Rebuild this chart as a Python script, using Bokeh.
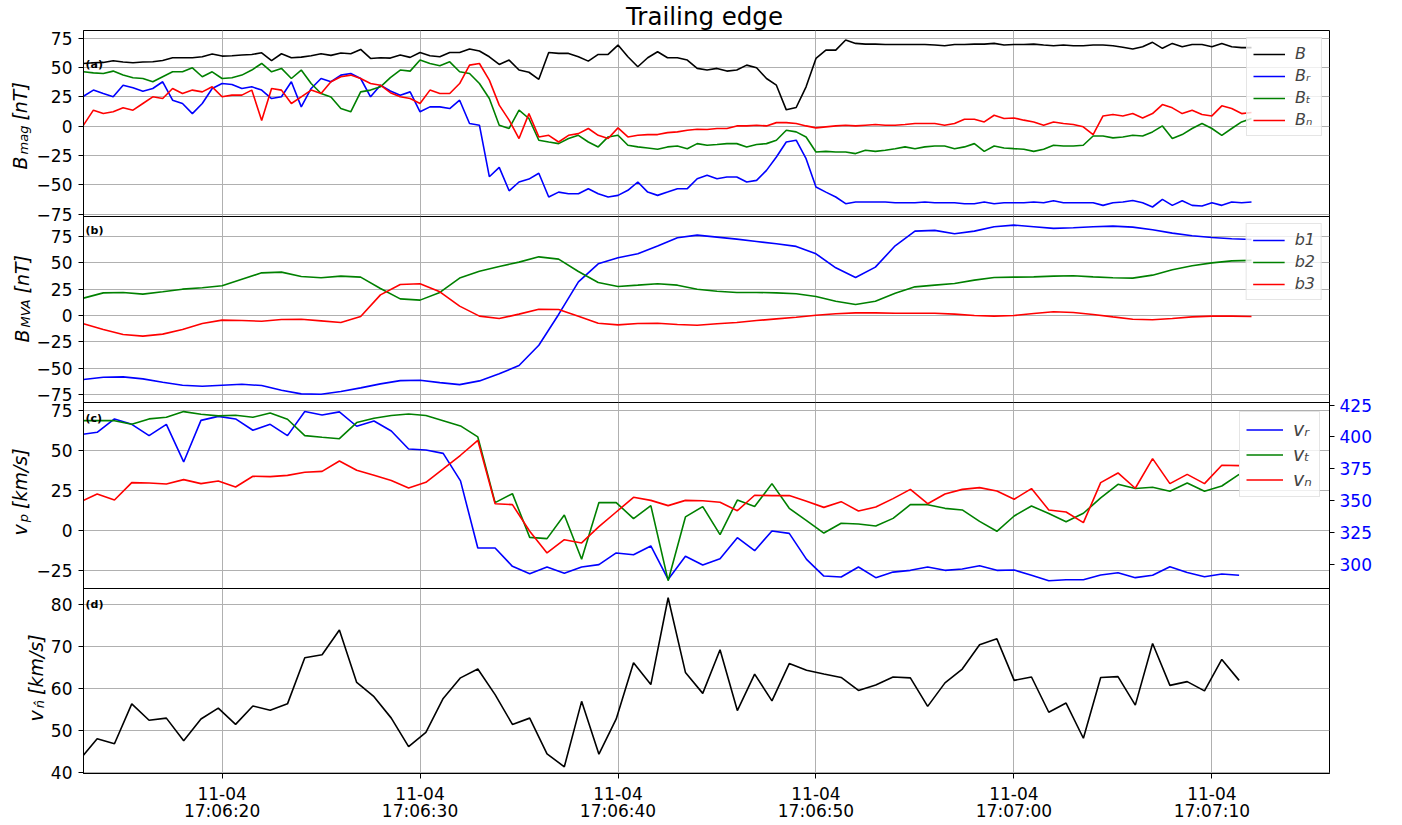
from math import pi
import numpy as np
from bokeh.plotting import figure
from bokeh.models import (Range1d, LinearAxis, FixedTicker, CustomJSTickFormatter, Label)
from bokeh.layouts import column, row
from bokeh.embed import file_html
from bokeh.resources import INLINE

# ---------------- data (seconds after 17:06:00 on 11-04) ----------------
# panel (a): magnetic field, 0.5 s samples starting 17:06:13.0
t_mag_start, t_mag_step = 13.0, 0.5
B_tot = [53.5, 54.1, 54.4, 55.8, 54.7, 54.1, 54.7, 55.0, 56.1, 58.4, 58.4, 58.4, 59.2, 61.5, 59.8, 60.1,
         60.7, 61.2, 62.6, 56.0, 61.8, 58.4, 58.9, 60.1, 61.8, 60.4, 62.4, 61.8, 65.5, 57.8, 58.4,
         58.1,
         60.7, 58.7, 62.9, 60.1, 59.2, 62.9, 62.9, 65.8, 64.1, 59.2, 52.7, 56.4, 47.9, 46.0, 40.0, 62.9,
         62.1, 62.1, 59.2, 55.5, 61.2, 61.2, 69.2, 59.2, 50.7, 58.4, 63.5, 58.4, 58.4, 56.4, 49.3,
         47.9, 49.3, 47.0, 47.9, 52.1, 49.8, 40.7, 35.0, 14.0, 16.0, 33.6, 57.8, 64.9, 64.9, 73.5, 70.6,
         70.0, 70.0, 69.7, 69.7, 69.7, 69.7, 69.7, 69.2, 68.6, 69.7, 69.7, 70.0, 70.0, 70.6, 69.2,
         69.7, 69.7, 70.0, 69.2, 68.6, 69.2, 68.6, 68.6, 69.2, 69.2, 68.6, 67.3, 65.8, 67.8, 71.5, 66.4,
         70.6, 67.8, 69.7, 69.7, 67.8, 70.6, 67.8, 67.0, 67.0]
B_r = [25.6, 30.8, 27.9, 25.1, 35.0, 32.8, 29.9, 32.2, 37.9, 22.2, 19.4, 10.8, 19.4, 32.2, 36.4, 35.6,
       32.2, 33.6, 30.8, 23.6, 25.1, 37.9, 16.5, 32.2, 40.7, 37.9, 43.6, 45.0, 40.7, 25.1, 35.0,
       30.0,
       26.5, 29.3, 12.3, 16.5, 16.5, 15.1, 22.2, 2.3, 0.9, -43.0, -35.0, -55.0, -47.5, -45.0, -40.0, -60.3,
       -56.1, -57.5, -57.5, -53.2, -57.5, -60.3, -58.9, -54.6, -47.5, -56.1, -58.9, -56.1, -53.2, -53.2, -44.7,
       -41.8, -44.7, -43.2, -43.2, -47.5, -46.1, -37.6, -26.2, -13.4, -11.9, -27.6, -51.8, -56.1, -60.3, -66.0,
       -64.6, -64.6, -64.6, -64.6, -65.2, -65.2, -65.2, -64.6, -65.2, -65.2, -65.2, -66.0, -66.0, -64.6, -66.0,
       -65.2,
       -65.2, -65.2, -64.6, -65.2, -63.5, -65.2, -65.2, -65.2, -65.2, -67.4, -65.2, -64.6, -63.2, -65.2, -68.8,
       -62.3, -67.4, -63.5, -67.4, -68.0, -65.2, -67.4, -64.6, -65.2, -64.6]
B_t = [46.4, 45.5, 45.0, 47.0, 43.6, 41.3, 40.7, 37.9, 42.2, 46.4, 46.4, 49.8, 42.2, 46.4, 40.7, 41.3,
       43.6, 47.9, 53.5, 46.4, 49.3, 40.7, 47.9, 36.4, 27.9, 25.0, 15.1, 12.3, 29.3, 30.8, 33.6,
       41.5,
       47.9, 47.0, 56.4, 53.5, 51.5, 54.9, 46.4, 45.0, 36.4, 23.6, 0.9, -1.9, 13.7, 6.6, -11.9, -13.4,
       -14.8, -10.5, -7.7, -13.4, -17.6, -9.1, -7.7, -16.2, -17.6, -18.5, -19.6, -17.6, -16.8, -19.1, -14.8,
       -16.2, -15.6, -14.8, -14.8, -17.6, -15.6, -14.8, -11.9, -3.4, -4.8, -9.1, -21.9, -21.4, -21.9, -21.9,
       -23.3, -20.5, -21.4, -20.5, -19.1, -17.6, -19.1, -17.6, -16.8, -16.8, -19.1, -17.6, -14.8, -21.4, -16.8,
       -18.5,
       -19.1, -19.6, -21.4, -19.6, -16.2, -16.8, -16.8, -16.2, -8.3, -8.3, -9.9, -9.1, -7.7, -8.3, -4.8,
       0.3, -10.5, -7.1, -1.9, 2.3, -1.9, -7.7, -1.9, 3.7, 6.6]
B_n = [1.0, 13.7, 10.8, 12.3, 15.7, 13.7, 19.4, 25.1, 23.6, 32.2, 27.9, 30.8, 29.3, 33.6, 25.1, 26.5,
       26.5, 30.8, 5.0, 32.2, 30.8, 19.4, 25.1, 30.8, 27.9, 37.9, 42.2, 43.6, 40.7, 36.4, 35.0,
       28.6,
       25.1, 23.6, 19.4, 30.8, 27.9, 27.9, 36.4, 52.1, 53.5, 39.3, 18.0, 5.2, -10.5, 10.8, -9.1, -7.7,
       -13.4, -7.7, -6.3, -1.9, -7.7, -10.5, -1.4, -9.1, -7.7, -7.1, -7.1, -5.4, -4.8, -3.4, -2.6,
       -2.8, -1.9, -1.9, 0.3, 0.3, 0.9, 0.3, 3.1, 3.1, 2.3, 0.3, -1.4, -0.5, 0.3, 0.9,
       0.3, 0.9, 1.5, 0.9, 0.9, 1.5, 2.3, 2.3, 2.3, 0.9, 2.3, 6.0, 6.0, 3.7, 9.4, 6.6,
       7.1, 5.2, 3.7, 0.9, 3.7, 2.3, 1.5, -0.5, -7.1, 8.8, 10.0, 8.8, 10.8, 7.1, 10.8,
       18.5, 15.7, 10.8, 13.7, 10.0, 8.8, 17.4, 15.1, 10.8, 11.7]

# panel (b): MVA components, 1 s samples starting 17:06:13
t_mva_start, t_mva_step = 13.0, 1.0
b1 = [-60.8, -58.6, -58.3, -60.2, -63.4, -66.2, -67.2, -66.2, -65.3, -66.5, -71.0, -74.4, -74.8, -72.2,
      -68.7, -64.9, -61.8, -61.5, -63.7, -65.6, -62.1, -55.4, -47.5, -28.2, 1.0, 32.0, 49.1, 54.8, 58.6,
      65.9, 73.8, 76.3, 74.4, 72.5, 70.3, 68.1, 65.6, 58.6, 45.3, 36.1, 45.9, 66.2, 80.1, 80.8, 77.6,
      80.1, 84.3, 85.8, 84.3, 82.7, 83.3, 84.3, 84.9, 83.9, 81.4, 78.2, 75.7, 74.1, 72.9, 72.2]
b2 = [16.5, 21.5, 21.9, 20.3, 22.5, 25.0, 26.3, 28.2, 34.5, 40.5, 41.2, 37.1, 35.8, 37.4, 36.4, 25.7,
      15.8, 14.6, 21.9, 35.5, 42.1, 46.6, 50.7, 55.7, 53.5, 41.8, 31.4, 27.6, 28.8, 30.1, 28.8, 25.0,
      23.1, 21.9, 21.9, 21.5, 20.6, 18.1, 13.6, 10.5, 13.6, 21.2, 27.2, 28.8, 30.4, 33.6, 36.1, 36.4,
      36.7, 37.4, 37.7, 36.7, 35.8, 35.5, 38.3, 43.4, 47.2, 50.0, 51.9, 52.3]
b3 = [-7.9, -13.3, -18.0, -19.6, -17.7, -13.3, -7.6, -4.4, -4.8, -5.4, -3.8, -3.5, -5.1, -6.7, -1.0,
      19.6, 29.5, 30.1, 22.5, 8.9, -0.6, -2.9, 1.3, 6.0, 5.7, -0.6, -7.3, -8.9, -7.6, -7.3, -8.6, -9.2,
      -7.9, -6.7, -4.8, -3.2, -1.6, 0.3, 1.6, 2.5, 2.5, 2.2, 2.2, 2.2, 1.3, 0.0, -0.6, 0.0, 1.9, 3.5,
      2.9, 1.0, -1.3, -3.5, -4.1, -2.9, -1.3, -0.6, -0.6, -1.0]

# panels (c), (d): plasma moments, 0.874 s cadence starting 17:06:12.816
t_pl_start, t_pl_step = 12.816, 0.874
v_r = [60.0, 61.5, 69.9, 66.5, 59.4, 66.5, 42.9, 69.0, 71.5, 69.9, 62.8, 66.5, 59.4, 74.5, 72.4, 74.3,
       65.3, 68.6, 62.3, 51.0, 50.4, 48.3, 31.0, -11.1, -11.1, -22.6, -27.2, -23.0, -27.0, -23.0, -21.5,
       -14.2, -15.3, -9.8, -30.8, -16.3, -21.8,
       -17.8, -4.6, -12.8, -0.4, -1.9, -18.2, -28.7, -29.3, -23.0, -29.7, -26.2, -25.1, -23.0, -25.1,
       -24.3, -22.2, -25.1, -24.9, -28.2, -31.6, -31.0, -31.0, -28.0, -26.6, -29.7, -28.2, -22.8, -26.4,
       -29.1, -27.4, -28.2]
v_t = [68.8, 68.8, 68.8, 66.5, 69.9, 70.9, 74.5, 72.8, 71.8, 72.2, 70.9, 73.6, 69.7, 59.4, 58.4, 57.5,
       67.6, 70.3, 72.0, 73.0, 72.0, 68.8, 65.5, 58.6, 17.4, 23.0, -4.4, -5.2, 9.6, -18.2, 17.4, 17.4,
       7.3, 15.5, -31.6, 8.4, 14.9,
       -2.7, 19.0, 14.9, 29.3, 13.8, 6.1, -1.7, 4.4, 4.0, 2.7, 7.5, 16.1, 16.1, 13.8, 12.8, 5.6, -0.6,
       9.0, 15.3, 10.5, 5.4, 10.7, 20.3, 28.9, 26.2, 27.0, 24.5, 29.7, 24.5, 27.8, 35.1]
v_n = [17.7, 22.8, 19.0, 29.9, 29.7, 29.1, 31.8, 29.3, 31.0, 27.2, 33.9, 33.7, 34.5, 36.4, 37.0, 43.5,
       37.7, 34.5, 31.2, 26.6, 30.1, 38.5, 47.1, 56.5, 16.7, 16.1, -0.6, -14.2, -5.9, -7.9, 2.3, 11.5,
       20.7, 18.8, 15.5, 18.8, 18.6,
       17.6, 12.3, 22.0, 21.8, 21.8, 18.2, 14.4, 18.0, 12.1, 14.6, 19.9, 25.7, 16.7, 22.8, 25.7, 26.8,
       24.7, 19.5, 26.2, 12.8, 11.5, 4.8, 29.9, 36.0, 26.4, 45.0, 29.3, 35.1, 29.3, 40.8, 40.6]
v_nhat = [43.1, 48.1, 46.9, 56.4, 52.5, 53.0, 47.6, 52.8, 55.4, 51.5, 55.9, 54.9, 56.4, 67.4, 68.1, 74.0,
          61.5, 58.1, 53.0, 46.2, 49.6, 57.7, 62.6, 64.7, 58.6, 51.5, 53.0, 44.5, 41.4, 57.0, 44.4, 52.8,
          66.2, 61.0, 81.7, 63.9, 58.9, 69.3, 54.8, 63.5, 57.1, 66.0, 64.4, 63.5, 62.7, 59.6, 60.9, 62.8,
          62.6, 55.8, 61.4, 64.7, 70.5, 71.9, 62.0, 62.8, 54.4, 56.6, 48.2, 62.7, 62.9, 56.1, 70.8, 60.8,
          61.7, 59.5, 67.0, 62.0]

x_tick_secs = [20, 30, 40, 50, 60, 70]
x_tick_labels = ["11-04\n17:06:20", "11-04\n17:06:30", "11-04\n17:06:40",
                 "11-04\n17:06:50", "11-04\n17:07:00", "11-04\n17:07:10"]
vmag_ticks = [300, 325, 350, 375, 400, 425]

t_mag = t_mag_start + t_mag_step * np.arange(len(B_tot))
t_mva = t_mva_start + t_mva_step * np.arange(len(b1))
t_pl = t_pl_start + t_pl_step * np.arange(len(v_r))

# ---------------- styling helpers ----------------
FONT = "DejaVu Sans"
FW = 1246
RB = 60
XR = (13.0, 75.94)
PAD = 8          # transparent border above/below each panel so edge tick labels are not clipped
minus_fmt = "return (tick < 0 ? '\\u2212' : '') + Math.abs(tick).toString();"


def blank(fw, fh, left=0, right=0, top=0, bottom=0):
    p = figure(frame_width=fw, frame_height=fh, x_range=Range1d(0, 1), y_range=Range1d(0, 1),
               x_axis_location=None, y_axis_location=None, output_backend="svg",
               toolbar_location=None, min_border_left=left, min_border_right=right,
               min_border_top=top, min_border_bottom=bottom)
    p.outline_line_color = None
    p.grid.visible = False
    p.background_fill_color = None
    p.border_fill_color = None
    return p


def base(yr, yt, fh, left, bottom=PAD, show_x=False):
    p = figure(frame_width=FW, frame_height=fh, x_range=Range1d(*XR), y_range=Range1d(*yr),
               output_backend="svg", toolbar_location=None,
               min_border_left=left, min_border_right=RB, min_border_top=PAD, min_border_bottom=bottom)
    p.background_fill_color = None
    p.border_fill_color = None
    p.outline_line_color = "black"
    p.outline_line_width = 1
    p.xaxis.ticker = FixedTicker(ticks=x_tick_secs)
    p.yaxis.ticker = FixedTicker(ticks=yt)
    p.yaxis.formatter = CustomJSTickFormatter(code=minus_fmt)
    for ax in p.axis:
        ax.major_label_text_font = FONT
        ax.major_label_text_font_size = "17px"
        ax.major_label_text_color = "black"
        ax.major_tick_out = 5
        ax.major_tick_in = 0
        ax.minor_tick_out = 0
        ax.minor_tick_in = 0
        ax.major_label_standoff = 6
        ax.axis_line_color = "black"
    p.grid.grid_line_color = "#b0b0b0"
    p.grid.grid_line_width = 1
    if show_x:
        p.xaxis.major_label_overrides = dict(zip(x_tick_secs, x_tick_labels))
        p.xaxis.major_label_standoff = 5
        p.xaxis.major_label_text_line_height = 0.85
    else:
        p.xaxis.visible = False
    return p


def style_legend(p, size, glyph_w, margin=7):
    lg = p.legend[0]
    lg.location = "top_right"
    lg.margin = margin
    lg.padding = 6
    lg.spacing = 3
    lg.glyph_width = glyph_w
    lg.glyph_height = size
    lg.label_height = size
    lg.label_standoff = 10
    lg.label_text_font = FONT
    lg.label_text_font_style = "italic"
    lg.label_text_font_size = f"{size}px"
    lg.border_line_color = "#cccccc"
    lg.border_line_width = 1
    lg.background_fill_color = "white"
    lg.background_fill_alpha = 0.8


CW = {'B': 0.686, 'm': 0.974, 'a': 0.613, 'g': 0.635, 'M': 0.863, 'V': 0.684, 'A': 0.684,
      'v': 0.592, 'p': 0.635, 'n': 0.634, 'T': 0.611, '[': 0.390, ']': 0.390, 'k': 0.579,
      '/': 0.337, 's': 0.521}
MAIN, SUB = 19, 13


def tw(s, size):
    return sum(CW.get(c, 0.0) for c in s) * size


def ylabel(p, main, sub, rest, xb, y0):
    """xb: x of the text baseline inside the strip; y0: start of the text from the frame bottom."""
    common = dict(x_units="screen", y_units="screen", angle=pi / 2, text_font=FONT,
                  text_font_style="italic", text_baseline="middle", text_align="left",
                  text_color="black")
    xm = xb - 0.26 * MAIN
    xs = xb + 2 - 0.26 * SUB
    p.add_layout(Label(x=xm, y=y0, text=main, text_font_size=f"{MAIN}px", **common))
    y1 = y0 + tw(main, MAIN) + 2
    p.add_layout(Label(x=xs, y=y1, text=sub, text_font_size=f"{SUB}px", **common))
    y2 = y1 + tw(sub, SUB) + 5
    p.add_layout(Label(x=xm, y=y2, text=rest, text_font_size=f"{MAIN}px", **common))


def tag(p, text, y):
    p.add_layout(Label(x=2, y=y, x_units="screen", y_units="screen", text=text, text_font=FONT,
                       text_font_style="bold", text_font_size="11px", text_baseline="middle",
                       text_color="black"))


LW = 1.6
LABW = 33      # width of the strip holding the y labels for panels a-c
LABW_D = 47    # same for panel d
BOT = 50
TITLE_H = 30

# ---------------- title ----------------
ptitle = blank(FW, TITLE_H, left=LABW + 48, right=RB)
ptitle.add_layout(Label(x=FW / 2, y=TITLE_H - 16.3, x_units="screen", y_units="screen",
                        text="Trailing edge", text_font=FONT, text_font_size="24.5px",
                        text_align="center", text_baseline="middle", text_color="black"))

# ---------------- panel (a) ----------------
pa = base((-76.9, 81.6), [-75, -50, -25, 0, 25, 50, 75], 186, left=48)
pa.line(t_mag, B_tot, color="black", line_width=LW, legend_label="B")
pa.line(t_mag, B_r, color="blue", line_width=LW, legend_label="B\u1d63")
pa.line(t_mag, B_t, color="green", line_width=LW, legend_label="B\u209c")
pa.line(t_mag, B_n, color="red", line_width=LW, legend_label="B\u2099")
style_legend(pa, 16, 32)
tag(pa, "(a)", 152)
la = blank(LABW, 186, top=PAD, bottom=PAD)
ylabel(la, "B", "mag", "[nT]", 24.5, 47)

# ---------------- panel (b) ----------------
pb = base((-82.6, 94.0), [-75, -50, -25, 0, 25, 50, 75], 186, left=48)
pb.line(t_mva, b1, color="blue", line_width=LW, legend_label="b1")
pb.line(t_mva, b2, color="green", line_width=LW, legend_label="b2")
pb.line(t_mva, b3, color="red", line_width=LW, legend_label="b3")
style_legend(pb, 16, 32)
tag(pb, "(b)", 172)
lb = blank(LABW, 186, top=PAD, bottom=PAD)
ylabel(lb, "B", "MVA", "[nT]", 26, 60)

# ---------------- panel (c) ----------------
pc = base((-36.5, 80.2), [-25, 0, 25, 50, 75], 186, left=48)
pc.extra_y_ranges = {"vmag": Range1d(281, 427)}
rax = LinearAxis(y_range_name="vmag", ticker=FixedTicker(ticks=vmag_ticks))
rax.major_label_text_font = FONT
rax.major_label_text_font_size = "17px"
rax.major_label_text_color = "blue"
rax.major_tick_out = 5
rax.major_tick_in = 0
rax.minor_tick_out = 0
rax.minor_tick_in = 0
rax.major_label_standoff = 5
pc.add_layout(rax, "right")
pc.line(t_pl, v_r, color="blue", line_width=LW, legend_label="v\u1d63")
pc.line(t_pl, v_t, color="green", line_width=LW, legend_label="v\u209c")
pc.line(t_pl, v_n, color="red", line_width=LW, legend_label="v\u2099")
style_legend(pc, 19, 37, margin=9)
tag(pc, "(c)", 170)
lc = blank(LABW, 186, top=PAD, bottom=PAD)
ylabel(lc, "v", "p", "[km/s]", 24.5, 53)

# ---------------- panel (d) ----------------
pd_ = base((39.8, 83.9), [40, 50, 60, 70, 80], 185, left=LABW + 48 - LABW_D, bottom=BOT, show_x=True)
pd_.line(t_pl, v_nhat, color="black", line_width=LW)
tag(pd_, "(d)", 169)
ld = blank(LABW_D, 185, top=PAD, bottom=BOT)
ylabel(ld, "v", "n\u0302", "[km/s]", 40, 52)

# rows overlap by their transparent padding so the panels touch, as in the original
ra = row(la, pa, styles={"margin-top": f"-{PAD}px"})
rb = row(lb, pb, styles={"margin-top": f"-{2 * PAD}px"})
rc = row(lc, pc, styles={"margin-top": f"-{2 * PAD}px"})
rd = row(ld, pd_, styles={"margin-top": f"-{2 * PAD}px"})

layout = column(ptitle, ra, rb, rc, rd, spacing=0)
open("out.html", "w").write(file_html(layout, INLINE))
